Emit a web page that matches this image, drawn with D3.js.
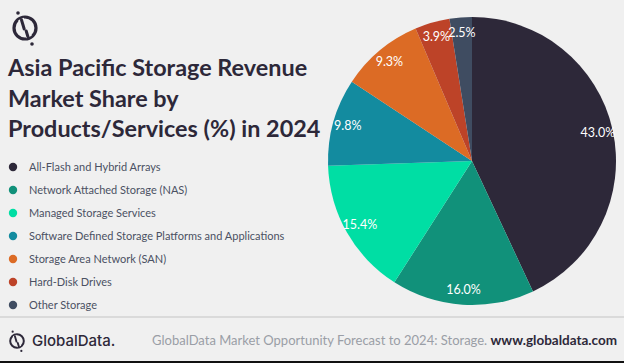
<!DOCTYPE html>
<html><head><meta charset="utf-8">
<script src="https://cdn.jsdelivr.net/npm/d3@7"></script>
<style>
html,body{margin:0;padding:0;background:#f0f0f0;}
svg{display:block;}
</style></head>
<body>
<svg id="chart" width="624" height="363"></svg>
<script>
const categories = ["All-Flash and Hybrid Arrays","Network Attached Storage (NAS)","Managed Storage Services","Software Defined Storage Platforms and Applications","Storage Area Network (SAN)","Hard-Disk Drives","Other Storage"];
const shares = [43.0,16.0,15.4,9.8,9.3,3.9,2.5];
const colors = ["#2d2839","#11917a","#00dea4","#138b9f","#dc6b25","#bd4328","#3f4c61"];
const titleLines = ["Asia Pacific Storage Revenue","Market Share by","Products/Services (%) in 2024"];
const footerSource = "GlobalData Market Opportunity Forecast to 2024: Storage.";
const footerUrl = "www.globaldata.com";

const svg = d3.select("#chart");
const W = 624, H = 363;
svg.append("rect").attr("width",W).attr("height",H).attr("fill","#f0f0f0");

function logo(g, s){
  g.append("circle").attr("cx",0).attr("cy",0).attr("r",11*s).attr("fill","none").attr("stroke","#2d2839").attr("stroke-width",3.2*s);
  g.append("line").attr("x1",-4*s).attr("y1",-9*s).attr("x2",4*s).attr("y2",9*s).attr("stroke","#f0f0f0").attr("stroke-width",6*s);
  g.append("line").attr("x1",-3.5*s).attr("y1",-8*s).attr("x2",-0.8*s).attr("y2",1*s).attr("stroke","#2d2839").attr("stroke-width",3*s).attr("stroke-linecap","round");
  g.append("line").attr("x1",1.2*s).attr("y1",3*s).attr("x2",3*s).attr("y2",9*s).attr("stroke","#2d2839").attr("stroke-width",3*s).attr("stroke-linecap","round");
  g.append("circle").attr("cx",-7*s).attr("cy",-15*s).attr("r",1.8*s).attr("fill","#2d2839");
  g.append("circle").attr("cx",7*s).attr("cy",16*s).attr("r",1.8*s).attr("fill","#2d2839");
}
logo(svg.append("g").attr("transform","translate(25,28)"),1);

svg.append("g").selectAll("text").data(titleLines).join("text")
  .attr("x",8).attr("y",(d,i)=>76+i*30.5)
  .attr("font-family","Lato, 'Open Sans', sans-serif").attr("font-weight",700)
  .attr("font-size",23.4).attr("fill","#2d2839").text(d=>d);

const leg = svg.append("g");
const legY = d3.scaleLinear().domain([0,categories.length-1]).range([167,305]);
leg.selectAll("circle").data(categories).join("circle")
  .attr("cx",13).attr("cy",(d,i)=>legY(i)).attr("r",4.2).attr("fill",(d,i)=>colors[i]);
leg.selectAll("text").data(categories).join("text")
  .attr("x",29).attr("y",(d,i)=>legY(i)).attr("dy","0.35em")
  .attr("font-family","Lato, 'Open Sans', sans-serif").attr("font-size",11).attr("fill","#4b5163").text(d=>d);

const cx = 472, cy = 161, R = 144;
const pie = d3.pie().sort(null).value(d=>d)(shares);
const arc = d3.arc().innerRadius(0).outerRadius(R);
const lblArc = d3.arc().innerRadius(129).outerRadius(129);
const pg = svg.append("g").attr("transform",`translate(${cx},${cy})`);
pg.selectAll("path").data(pie).join("path").attr("d",arc).attr("fill",(d,i)=>colors[i]);
pg.selectAll("text").data(pie).join("text")
  .attr("transform",d=>`translate(${lblArc.centroid(d)})`)
  .attr("text-anchor","middle").attr("dy","0.35em")
  .attr("font-family","Lato, 'Open Sans', sans-serif").attr("font-size",12.5).attr("fill","#ffffff")
  .text(d=>d.data.toFixed(1)+"%");

svg.append("line").attr("x1",0).attr("x2",W).attr("y1",317).attr("y2",317).attr("stroke","#c4c4c4").attr("stroke-width",1.2);
svg.append("rect").attr("x",0).attr("y",361).attr("width",W).attr("height",2).attr("fill","#111");
logo(svg.append("g").attr("transform","translate(17,341)"),0.62);
svg.append("text").attr("x",32).attr("y",341).attr("dy","0.35em")
  .attr("font-family","Inter, Roboto, sans-serif").attr("font-weight",500).attr("font-size",15).attr("fill","#2d2839").text("GlobalData.");
const ft = svg.append("text").attr("x",617).attr("y",340).attr("dy","0.35em").attr("text-anchor","end")
  .attr("font-family","Lato, 'Open Sans', sans-serif").attr("font-size",13);
ft.append("tspan").attr("fill","#9a9ea6").text(footerSource+" ");
ft.append("tspan").attr("fill","#2d2839").attr("font-weight",700).attr("font-size",13.5).text(footerUrl);
</script>
</body></html>
